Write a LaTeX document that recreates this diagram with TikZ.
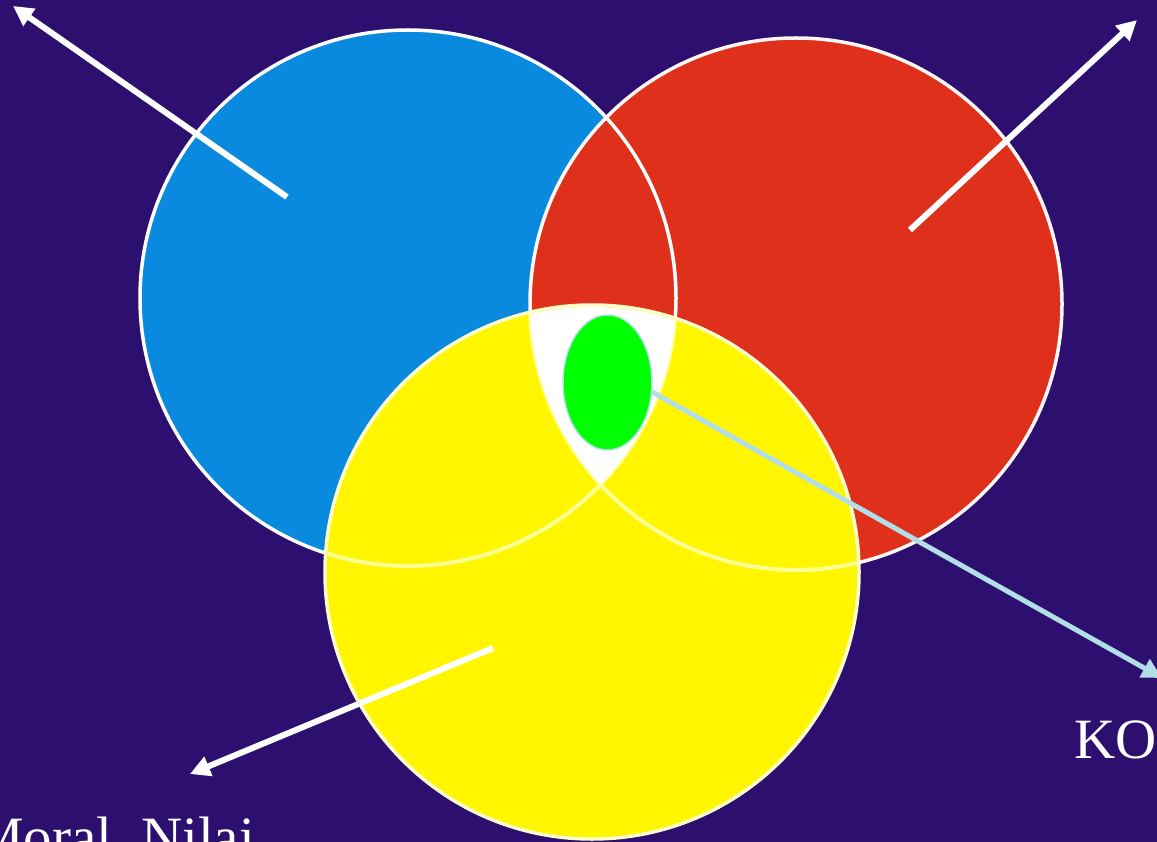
\documentclass[tikz,border=0pt]{standalone}
\usepackage{fontspec}
\setmainfont{Liberation Serif}
\usetikzlibrary{arrows.meta,shapes.geometric}
\definecolor{bgpurple}{RGB}{44,15,111}
\definecolor{vblue}{RGB}{10,138,222}
\definecolor{vred}{RGB}{222,48,26}
\definecolor{vyellow}{RGB}{255,246,0}
\definecolor{vgreen}{RGB}{0,255,0}
\definecolor{lblue}{RGB}{178,222,232}
\definecolor{paleyel}{RGB}{255,255,150}
\tikzset{
  setcircle/.style={circle,inner sep=0pt,minimum size=#1},
  rim/.style={line width=3.5pt},
  whitearrow/.style={draw=white,line width=6pt,-{Triangle[length=20pt,width=20pt]}},
  bluearrow/.style={draw=lblue,line width=5pt,-{Triangle[length=20pt,width=20pt]}},
  label/.style={text=white,font=\fontsize{57}{60}\selectfont,inner sep=0pt}
}
\begin{document}
\begin{tikzpicture}[x=1pt,y=-1pt]
\useasboundingbox (0,0) rectangle (1157,842);
\clip (0,0) rectangle (1157,842);
\fill[bgpurple] (0,0) rectangle (1157,842);
% circles
\node[setcircle=536pt,fill=vblue] (blue) at (408,298) {};
\node[setcircle=532pt,fill=vred] (red) at (796,304) {};
\draw[rim,white!85!pink] (red) circle[radius=266];
\draw[rim,white] (blue) circle[radius=268];
\node[setcircle=534pt,fill=vyellow,draw=white!80!yellow,rim] (yellow) at (592,572) {};
\begin{scope}
  \clip (yellow) circle[radius=265];
  \draw[line width=4pt,paleyel] (blue) circle[radius=268];
  \draw[line width=4pt,paleyel] (red) circle[radius=266];
  \clip (blue) circle[radius=268];
  \clip (red) circle[radius=266];
  \fill[white] (yellow) circle[radius=267];
\end{scope}
% core
\node[ellipse,inner sep=0pt,minimum width=89pt,minimum height=135pt,fill=vgreen,draw=lblue,line width=1.5pt] (green) at (607.5,382.5) {};
% arrow ends
\coordinate (s1) at (287,197);
\coordinate (e1) at (13,6);
\coordinate (s2) at (910,230);
\coordinate (e2) at (1137,20);
\coordinate (s3) at (493,648);
\coordinate (e3) at (190,774);
\coordinate (e4) at (1162,678);
\draw[whitearrow] (s1) -- (e1);
\draw[whitearrow] (s2) -- (e2);
\draw[whitearrow] (s3) -- (e3);
\draw[bluearrow] (green.-12) -- (e4);
% labels
\node[label,anchor=base west] (koi) at (1074,758) {KOI};
\node[label,anchor=base west] (moral) at (-27,856) {Moral, Nilai};
\end{tikzpicture}
\end{document}
